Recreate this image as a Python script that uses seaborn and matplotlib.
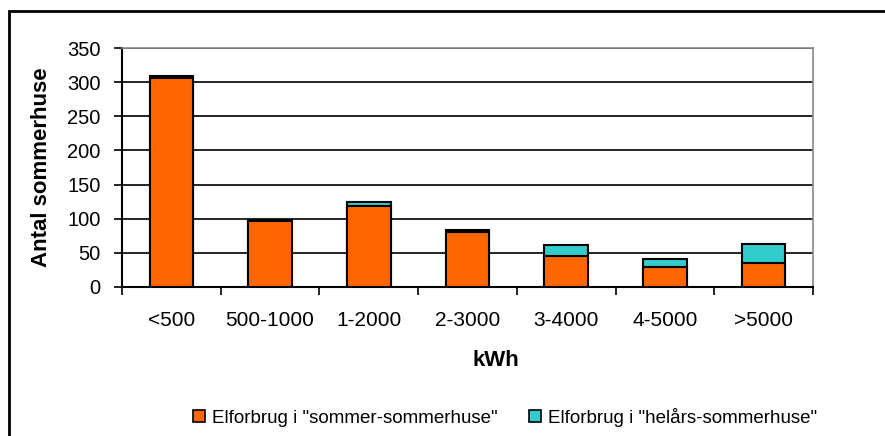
import numpy as np
import pandas as pd
import matplotlib
matplotlib.use("Agg")
import matplotlib.pyplot as plt
import matplotlib.patches as mpatches
import seaborn as sns

categories = ["<500", "500-1000", "1-2000", "2-3000", "3-4000", "4-5000", ">5000"]
sommer = [306, 97, 119, 80, 45, 30, 35]
helaars = [3, 1, 6, 4, 16, 11, 28]
series_names = ['Elforbrug i "sommer-sommerhuse"', 'Elforbrug i "helårs-sommerhuse"']
y_ticks = [0, 50, 100, 150, 200, 250, 300, 350]

ORANGE = "#FF6600"
TEAL = "#33CCCC"

sns.set_theme(style="white")
plt.rcParams["font.family"] = ["Liberation Sans", "DejaVu Sans"]
plt.rcParams["text.color"] = "black"
plt.rcParams["xtick.color"] = "black"
plt.rcParams["ytick.color"] = "black"
plt.rcParams["axes.labelcolor"] = "black"

df = pd.DataFrame({
    "kWh": categories,
    "sommer": sommer,
    "total": [a + b for a, b in zip(sommer, helaars)],
})

W, H = 885, 436
fig = plt.figure(figsize=(W / 100, H / 100), dpi=100)
L, R, T, B = 122, 813, 48, 287
ax = fig.add_axes([L / W, 1 - B / H, (R - L) / W, (B - T) / H])

sns.barplot(data=df, x="kWh", y="total", color=TEAL, width=0.44, ax=ax,
            edgecolor="black", linewidth=1.5, saturation=1, zorder=3)
sns.barplot(data=df, x="kWh", y="sommer", color=ORANGE, width=0.44, ax=ax,
            edgecolor="black", linewidth=1.5, saturation=1, zorder=4)

ax.set_xlim(-0.5, len(categories) - 0.5)
ax.set_ylim(0, 350)
ax.set_yticks(y_ticks)
ax.set_yticklabels([str(v) for v in y_ticks], fontsize=14.5, color="black")
ax.yaxis.grid(True, color="black", linewidth=1.2, zorder=0)
ax.set_axisbelow(True)

ax.set_xticks(np.arange(-0.5, len(categories), 1.0))
ax.set_xticklabels([])
ax.set_xticks(np.arange(len(categories)), minor=True)
ax.set_xticklabels(categories, minor=True, fontsize=15, color="black")
ax.tick_params(axis="x", which="major", direction="out", length=5.5, width=1.2,
               color="black", bottom=True)
ax.tick_params(axis="x", which="minor", length=0, pad=17)
ax.tick_params(axis="y", direction="out", length=5.5, width=1.2, color="black",
               pad=10, left=True)

ax.set_xlabel("")
ax.set_ylabel("")
for side in ["left", "bottom"]:
    ax.spines[side].set_color("black")
    ax.spines[side].set_linewidth(1.5)
for side in ["top", "right"]:
    ax.spines[side].set_visible(True)
    ax.spines[side].set_color("#888888")
    ax.spines[side].set_linewidth(1.2)

fig.text(42 / W, 1 - 167 / H, "Antal sommerhuse", rotation=90, fontsize=16,
         fontweight="bold", ha="center", va="center", color="black")
fig.text(496 / W, 1 - 360 / H, "kWh", fontsize=16, fontweight="bold",
         ha="center", va="center", color="black")

handles = [mpatches.Patch(facecolor=ORANGE, edgecolor="black", linewidth=1.2),
           mpatches.Patch(facecolor=TEAL, edgecolor="black", linewidth=1.2)]
leg = fig.legend(handles, series_names, loc="center", ncol=2, frameon=False,
                 bbox_to_anchor=(505 / W, 1 - 417 / H), fontsize=13.5,
                 handlelength=0.64, handleheight=0.64, handletextpad=0.37,
                 columnspacing=1.65, borderpad=0)
for t in leg.get_texts():
    t.set_color("black")

fig.patches.append(mpatches.Rectangle((8.5 / W, -0.1), 1.2, 1 - 10.5 / H + 0.1,
                                      transform=fig.transFigure, fill=False,
                                      edgecolor="black", linewidth=2))

fig.savefig("out.png", dpi=100)
